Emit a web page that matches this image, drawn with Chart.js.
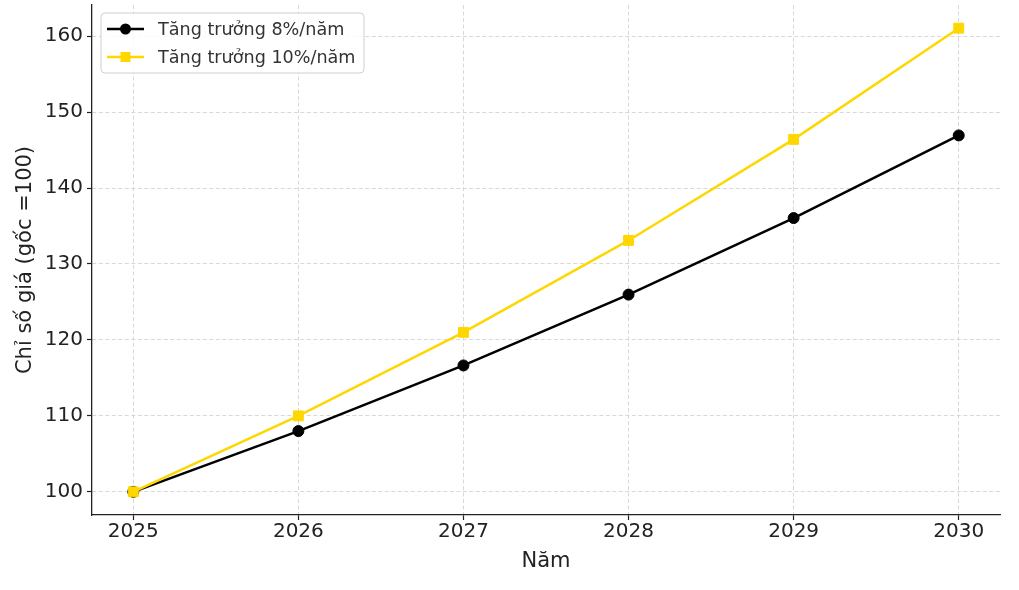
<!DOCTYPE html>
<html>
<head>
<meta charset="utf-8">
<script src="https://cdn.jsdelivr.net/npm/chart.js@4/dist/chart.umd.min.js"></script>
<style>
  html, body { margin: 0; padding: 0; background: #fff; }
  #wrap { width: 1019px; height: 590px; position: relative; }
</style>
</head>
<body>
<div id="wrap"><canvas id="chart"></canvas></div>
<script>
const years = [2025, 2026, 2027, 2028, 2029, 2030];
const growth8 = [100, 108, 116.64, 125.97, 136.05, 146.93];
const growth10 = [100, 110, 121, 133.1, 146.41, 161.05];
const yTicks = [100, 110, 120, 130, 140, 150, 160];
const labels = ['Tăng trưởng 8%/năm', 'Tăng trưởng 10%/năm'];

const FONT = "'DejaVu Sans', sans-serif";
const TXT = '#222';

// legend drawn inside the plot, top-left, like matplotlib
const boxLegend = {
    id: 'boxLegend',
    afterDatasetsDraw(chart) {
        const ctx = chart.ctx;
        const area = chart.chartArea;
        const x = area.left + 9, y = area.top + 8, w = 263, h = 60;
        ctx.save();
        ctx.beginPath();
        ctx.roundRect(x, y, w, h, 4);
        ctx.fillStyle = 'rgba(255,255,255,0.85)';
        ctx.fill();
        ctx.strokeStyle = '#d0d0d0';
        ctx.lineWidth = 1;
        ctx.stroke();
        chart.data.datasets.forEach((ds, i) => {
            const cy = y + 16 + i * 28;
            ctx.beginPath();
            ctx.moveTo(x + 6, cy);
            ctx.lineTo(x + 43, cy);
            ctx.strokeStyle = ds.borderColor;
            ctx.lineWidth = ds.borderWidth;
            ctx.stroke();
            ctx.fillStyle = ds.borderColor;
            if (ds.pointStyle === 'rect') {
                ctx.fillRect(x + 24.5 - 5, cy - 5, 10, 10);
            } else {
                ctx.beginPath();
                ctx.arc(x + 24.5, cy, 5.5, 0, Math.PI * 2);
                ctx.fill();
            }
            ctx.fillStyle = '#333';
            ctx.font = '17.6px ' + FONT;
            ctx.textBaseline = 'middle';
            ctx.fillText(ds.label, x + 57, cy + 1);
        });
        ctx.restore();
    }
};

const ds = (label, vals, col, style, r, ord) => ({
    label: label,
    data: years.map((yr, i) => ({ x: yr, y: vals[i] })),
    borderColor: col,
    backgroundColor: col,
    borderWidth: 2.5,
    pointStyle: style,
    pointRadius: r,
    pointBorderWidth: 1,
    pointBorderColor: col,
    pointBackgroundColor: col,
    tension: 0,
    order: ord
});

new Chart(document.getElementById('chart'), {
    type: 'line',
    data: {
        datasets: [
            ds(labels[0], growth8, '#000000', 'circle', 5.5, 1),
            ds(labels[1], growth10, '#FFD700', 'rect', 7, 0)
        ]
    },
    options: {
        responsive: true,
        maintainAspectRatio: false,
        animation: false,
        layout: { autoPadding: false, padding: { left: 0, top: 5, right: 19, bottom: 0 } },
        plugins: { legend: { display: false }, tooltip: { enabled: false } },
        scales: {
            x: {
                type: 'linear',
                min: 2024.75,
                max: 2030.25,
                afterBuildTicks: (axis) => { axis.ticks = years.map(v => ({ value: v })); },
                afterFit: (axis) => { axis.height = 75; axis.paddingLeft = 0; axis.paddingRight = 0; },
                grid: { color: '#d4d4d4', lineWidth: 0.9, tickColor: TXT, tickLength: 5, tickWidth: 1.2, tickBorderDash: [] },
                border: { color: TXT, width: 1.3, dash: [4, 2.5] },
                ticks: { color: TXT, font: { family: FONT, size: 20 }, padding: 0, callback: v => String(v), maxRotation: 0 },
                title: { display: true, text: 'Năm', color: TXT, font: { family: FONT, size: 21 }, padding: { top: 0, bottom: 16 } }
            },
            y: {
                min: 96.95,
                max: 164.1,
                afterBuildTicks: (axis) => { axis.ticks = yTicks.map(v => ({ value: v })); },
                afterFit: (axis) => { axis.width = 92; axis.paddingTop = 0; axis.paddingBottom = 0; },
                grid: { color: '#d4d4d4', lineWidth: 0.9, tickColor: TXT, tickLength: 5, tickWidth: 1.2, tickBorderDash: [] },
                border: { color: TXT, width: 1.3, dash: [4, 2.5] },
                ticks: { color: TXT, font: { family: FONT, size: 20 }, padding: 4, callback: v => String(v) },
                title: { display: true, text: 'Chỉ số giá (gốc =100)', color: TXT, font: { family: FONT, size: 21 }, padding: { top: 13, bottom: 0 } }
            }
        }
    },
    plugins: [boxLegend]
});
</script>
</body>
</html>
